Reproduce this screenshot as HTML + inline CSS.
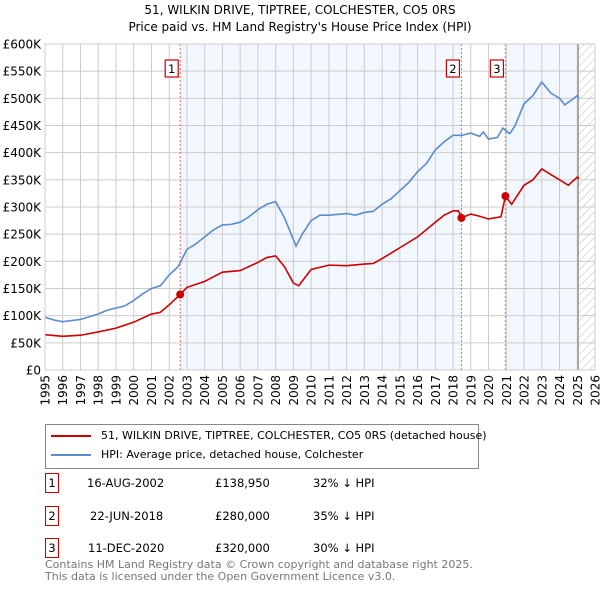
<!DOCTYPE html>
<html><head><meta charset="utf-8"><style>
body{margin:0;background:#fff;font-family:"DejaVu Sans","Liberation Sans",sans-serif;}
#wrap{position:relative;width:600px;height:590px;overflow:hidden;}
.t{position:absolute;font-size:11.5px;color:#000;white-space:nowrap;}
.box{position:absolute;border:1.5px solid #c00;width:12px;height:18px;text-align:center;font-size:11.5px;line-height:18px;}
</style></head><body><div id="wrap">
<div class="t" style="left:0;width:600px;text-align:center;top:2px;font-size:12px;line-height:17px">51, WILKIN DRIVE, TIPTREE, COLCHESTER, CO5 0RS<br>Price paid vs. HM Land Registry's House Price Index (HPI)</div>
<svg id="plot" width="600" height="420" style="position:absolute;left:0;top:0">
<defs><pattern id="hatch" width="6" height="6" patternUnits="userSpaceOnUse" patternTransform="rotate(45)"><line x1="0" y1="0" x2="0" y2="6" stroke="#bbb" stroke-width="1"/></pattern></defs>
<g id="bg"></g><g id="grid"></g><g id="series"></g><g id="axes"></g>
</svg>
<div style="position:absolute;left:45px;top:424px;width:432px;height:43px;border:1px solid #888;">
<div style="position:absolute;left:5px;top:4px;font-size:11px;white-space:nowrap"><span style="display:inline-block;width:40px;height:2px;background:#c00;vertical-align:middle;margin-right:10px"></span>51, WILKIN DRIVE, TIPTREE, COLCHESTER, CO5 0RS (detached house)</div>
<div style="position:absolute;left:5px;top:23px;font-size:11px;white-space:nowrap"><span style="display:inline-block;width:40px;height:2px;background:#5b8bd0;vertical-align:middle;margin-right:10px"></span>HPI: Average price, detached house, Colchester</div>
</div>
<div class="box" style="left:45px;top:473px">1</div>
<div class="t" style="left:87px;top:476px">16-AUG-2002</div>
<div class="t" style="left:215px;top:476px">£138,950</div>
<div class="t" style="left:313px;top:476px">32% ↓ HPI</div>
<div class="box" style="left:45px;top:506px">2</div>
<div class="t" style="left:90px;top:509px">22-JUN-2018</div>
<div class="t" style="left:215px;top:509px">£280,000</div>
<div class="t" style="left:313px;top:509px">35% ↓ HPI</div>
<div class="box" style="left:45px;top:538px">3</div>
<div class="t" style="left:88px;top:541px">11-DEC-2020</div>
<div class="t" style="left:215px;top:541px">£320,000</div>
<div class="t" style="left:313px;top:541px">30% ↓ HPI</div>
<div class="t" style="left:45px;top:559px;font-size:11px;color:#777;line-height:11.5px">Contains HM Land Registry data © Crown copyright and database right 2025.<br>This data is licensed under the Open Government Licence v3.0.</div>
</div>
<script>
const hpiYears=[1995,1995.5,1996,1997,1997.5,1998,1998.5,1999,1999.5,2000,2000.5,2001,2001.5,2002,2002.5,2003,2003.5,2004,2004.5,2005,2005.5,2006,2006.5,2007,2007.5,2008,2008.5,2009,2009.15,2009.5,2010,2010.5,2011,2012,2012.5,2013,2013.5,2014,2014.5,2015,2015.5,2016,2016.5,2017,2017.5,2018,2018.5,2019,2019.5,2019.7,2020,2020.5,2020.8,2021.2,2021.5,2022,2022.5,2023,2023.5,2024,2024.3,2024.8,2025,2025.1];
const hpiValues=[97,92,89,93,98,103,110,114,118,128,140,150,155,175,190,222,232,245,258,267,268,272,282,295,305,310,280,240,228,250,275,285,285,288,285,290,292,305,315,330,345,365,380,405,420,432,432,436,430,438,425,428,445,435,450,490,505,530,510,500,488,500,505,500];
const propYears=[1995,1996,1997,1998,1999,2000,2001,2001.5,2002,2002.62,2003,2004,2005,2006,2007,2007.5,2008,2008.5,2009,2009.3,2010,2011,2012,2013,2013.5,2014,2015,2016,2017,2017.5,2018,2018.3,2018.47,2019,2019.5,2020,2020.7,2020.95,2021.3,2022,2022.5,2023,2023.5,2024,2024.5,2025,2025.1];
const propValues=[65,62,64,70,77,88,103,106,120,139,152,163,180,183,198,207,210,190,160,155,185,193,192,195,196,205,225,245,272,285,293,293,280,287,283,278,282,320,305,340,350,370,360,350,340,355,352];
const saleYears=[2002.62,2018.47,2020.95];
const saleValues=[138.95,280,320];
const saleLabels=["1","2","3"];
const yTicks=[0,50,100,150,200,250,300,350,400,450,500,550,600];
const yTickLabels=["£0","£50K","£100K","£150K","£200K","£250K","£300K","£350K","£400K","£450K","£500K","£550K","£600K"];
const xTicks=[1995,1996,1997,1998,1999,2000,2001,2002,2003,2004,2005,2006,2007,2008,2009,2010,2011,2012,2013,2014,2015,2016,2017,2018,2019,2020,2021,2022,2023,2024,2025,2026];
const X0=45,X1=595,Y0=370,Y1=44;
const FONT='DejaVu Sans, Liberation Sans, sans-serif';
const xs=y=>X0+(y-1995)/(2026-1995)*(X1-X0);
const ys=v=>Y0-v/600*(Y0-Y1);
const NS="http://www.w3.org/2000/svg";
function mk(parent,tag,attrs){const e=document.createElementNS(NS,tag);for(const k in attrs)e.setAttribute(k,attrs[k]);document.getElementById(parent).appendChild(e);return e;}
const endX=xs(2025.05);
let r=mk('bg','rect',{x:xs(saleYears[0]),y:Y1,width:xs(saleYears[1])-xs(saleYears[0]),height:Y0-Y1,fill:'#f2f6fd'});


r=mk('bg','rect',{x:xs(saleYears[2]),y:Y1,width:endX-xs(saleYears[2]),height:Y0-Y1,fill:'#f2f6fd'});


r=mk('bg','rect',{x:endX,y:Y1,width:X1-endX,height:Y0-Y1,fill:'url(#hatch)'});


yTicks.forEach((v,i)=>{
 const l=mk('grid','line',{x1:X0,x2:X1,y1:ys(v),y2:ys(v),stroke:'#ccc','stroke-width':1});
 
 
 const t=mk('axes','text',{x:X0-4,y:ys(v)+4.5,'text-anchor':'end','font-size':12,'font-family':FONT});
 t.textContent=yTickLabels[i];
 
 
});
xTicks.forEach(y=>{
 const l=mk('grid','line',{x1:xs(y),x2:xs(y),y1:Y1,y2:Y0,stroke:'#ccc','stroke-width':1});
 
 
 const t=mk('axes','text',{x:0,y:0,'text-anchor':'end','font-size':12,'font-family':FONT,transform:`translate(${xs(y)+4.5},${Y0+5}) rotate(-90)`});
 t.textContent=y;
 
 
});
const el=mk('grid','line',{x1:endX,x2:endX,y1:Y1,y2:Y0,stroke:'#999','stroke-width':1.5});


const fr=mk('axes','rect',{x:X0,y:Y1,width:X1-X0,height:Y0-Y1,fill:'none',stroke:'#ccc'});


saleYears.forEach((y,i)=>{
 const l=mk('series','line',{x1:xs(y),x2:xs(y),y1:Y1,y2:Y0,stroke:'#e66','stroke-width':1,'stroke-dasharray':'2,2'});
 
 
});
const hp=mk('series','polyline',{points:hpiYears.map((y,i)=>xs(y)+','+ys(hpiValues[i])).join(' '),fill:'none',stroke:'#5b8bd0','stroke-width':1.6});


const pp=mk('series','polyline',{points:propYears.map((y,i)=>xs(y)+','+ys(propValues[i])).join(' '),fill:'none',stroke:'#c00','stroke-width':1.6});


saleYears.forEach((y,i)=>{
 const c=mk('series','circle',{cx:xs(y),cy:ys(saleValues[i]),r:4,fill:'#c00'});
 
 
 const bx=mk('series','rect',{x:xs(y)-15,y:60,width:13,height:17,fill:'#fff',stroke:'#c00','stroke-width':1.2});
 
 
 const t=mk('series','text',{x:xs(y)-8.5,y:73,'text-anchor':'middle','font-size':11.5,'font-family':FONT});
 t.textContent=saleLabels[i];
 
 
});
</script>
</body></html>
